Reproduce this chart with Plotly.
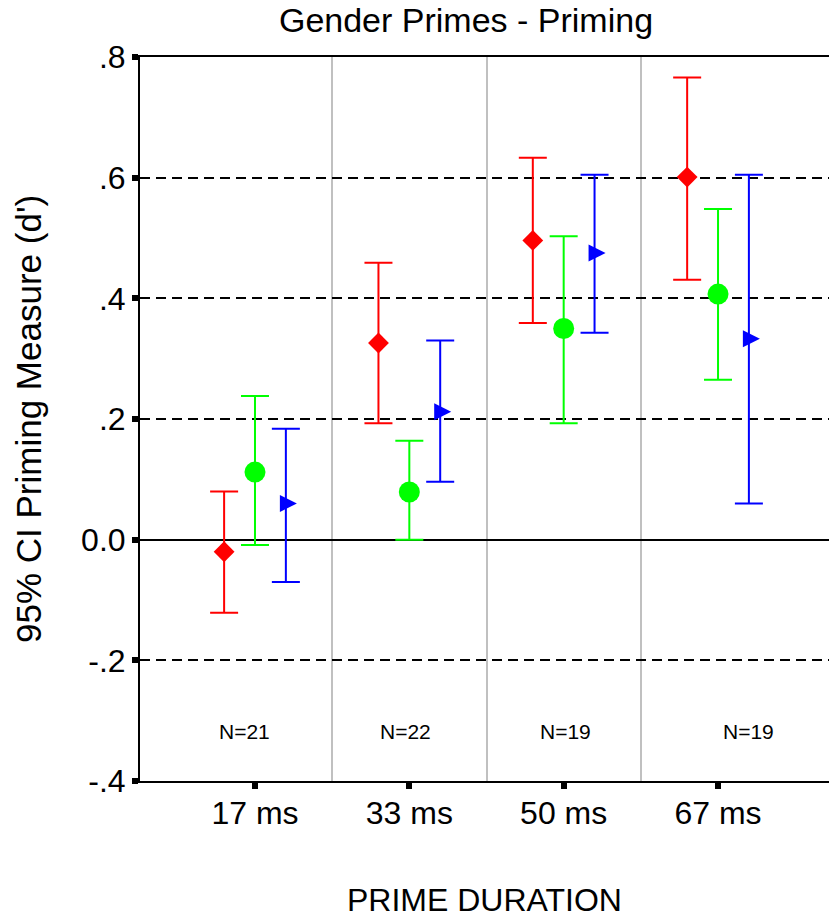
import plotly.graph_objects as go

# ---------------- data ----------------
categories = ["17 ms", "33 ms", "50 ms", "67 ms"]
n_labels = ["N=21", "N=22", "N=19", "N=19"]

red_mean = [-0.020, 0.326, 0.496, 0.601]
red_low = [-0.121, 0.193, 0.359, 0.431]
red_high = [0.080, 0.459, 0.633, 0.766]

green_mean = [0.112, 0.079, 0.350, 0.407]
green_low = [-0.009, 0.000, 0.193, 0.265]
green_high = [0.238, 0.164, 0.503, 0.548]

blue_mean = [0.060, 0.212, 0.475, 0.333]
blue_low = [-0.070, 0.096, 0.343, 0.060]
blue_high = [0.184, 0.330, 0.605, 0.605]

y_tickvals = [-0.4, -0.2, 0.0, 0.2, 0.4, 0.6, 0.8]
y_ticktext = ["-.4", "-.2", "0.0", ".2", ".4", ".6", ".8"]

# ---------------- layout constants ----------------
W, H = 829, 917
ML, MR, MT, MB = 140, 0, 57, 136
X_RANGE = [-0.745, 3.719]
Y_RANGE = [-0.4, 0.8]
GROUP_OFFSET = 0.2
N_LABEL_SHIFT = [-0.07, -0.026, 0.013, 0.2]
N_LABEL_Y = -0.318
FONT = "Liberation Sans, Arial, sans-serif"

px_per_unit = (W - ML - MR) / (X_RANGE[1] - X_RANGE[0])
idx = list(range(len(categories)))


def err(mean, low, high):
    return dict(
        type="data",
        symmetric=False,
        array=[h - m for h, m in zip(high, mean)],
        arrayminus=[m - l for m, l in zip(mean, low)],
        thickness=2,
        width=14,
    )


fig = go.Figure()

series = [
    ("Series 1", red_mean, red_low, red_high, "#ff0000", -GROUP_OFFSET, "diamond", 16),
    ("Series 2", green_mean, green_low, green_high, "#00ff00", 0.0, "circle", 21),
]
for name, m, lo, hi, col, off, sym, sz in series:
    e = err(m, lo, hi)
    e["color"] = col
    fig.add_trace(go.Scatter(
        x=[i + off for i in idx], y=m, mode="markers", name=name,
        marker=dict(symbol=sym, size=sz, color=col),
        error_y=e, showlegend=False,
    ))

# blue: error bars at group position, arrow-shaped marker pointing right
e = err(blue_mean, blue_low, blue_high)
e["color"] = "#0000ff"
fig.add_trace(go.Scatter(
    x=[i + GROUP_OFFSET for i in idx], y=blue_mean, mode="markers", name="Series 3",
    marker=dict(size=1, color="#0000ff", opacity=0),
    error_y=e, showlegend=False, hoverinfo="skip",
))
tip_shift = 11 / px_per_unit
fig.add_trace(go.Scatter(
    x=[i + GROUP_OFFSET + tip_shift for i in idx], y=blue_mean, mode="markers",
    name="Series 3", marker=dict(symbol="arrow-right", size=17, color="#0000ff"),
    showlegend=False,
))

annotations = []
for i, lab in enumerate(n_labels):
    annotations.append(dict(
        x=i + N_LABEL_SHIFT[i], y=N_LABEL_Y, xref="x", yref="y", text=lab,
        showarrow=False, font=dict(size=21, color="black", family=FONT),
        xanchor="center", yanchor="middle",
    ))
annotations.append(dict(
    x=0, y=0.5, xref="paper", yref="paper", xshift=28 - ML,
    text="95% CI Priming Measure (d')", textangle=-90, showarrow=False,
    font=dict(size=35, color="black", family=FONT), xanchor="center", yanchor="middle",
))
annotations.append(dict(
    x=0.5, y=0, xref="paper", yref="paper", yshift=-(900 - (H - MB)),
    text="PRIME DURATION", showarrow=False,
    font=dict(size=32, color="black", family=FONT), xanchor="center", yanchor="middle",
))

fig.update_layout(
    width=W, height=H,
    margin=dict(l=ML, r=MR, t=MT, b=MB, pad=0),
    paper_bgcolor="white", plot_bgcolor="white",
    font=dict(family=FONT, color="black"),
    title=dict(text="Gender Primes - Priming", x=466 / W, xanchor="center",
               y=1 - 20 / H, yanchor="middle", xref="container", yref="container",
               font=dict(size=34, color="black", family=FONT)),
    annotations=annotations,
    xaxis=dict(
        range=X_RANGE, tickmode="array", tickvals=idx, ticktext=categories,
        showgrid=False, zeroline=False,
        showline=True, linecolor="black", linewidth=2, mirror=True,
        ticks="outside", ticklen=6, tickwidth=6, tickcolor="black",
        ticklabelstandoff=-3,
        tickfont=dict(size=32, family=FONT, color="black"),
        minor=dict(tickmode="array", tickvals=[i + 0.5 for i in idx[:-1]],
                   showgrid=True, gridcolor="#c0c0c0", gridwidth=2, ticks=""),
        fixedrange=True,
    ),
    yaxis=dict(
        range=Y_RANGE, tickmode="array", tickvals=y_tickvals, ticktext=y_ticktext,
        showgrid=True, gridcolor="black", gridwidth=2, griddash="10px,6px",
        zeroline=True, zerolinecolor="black", zerolinewidth=2,
        showline=True, linecolor="black", linewidth=2,
        ticks="outside", ticklen=6, tickwidth=6, tickcolor="black",
        tickfont=dict(size=32, family=FONT, color="black"),
        fixedrange=True,
    ),
)

fig.write_html(
    "out.html",
    config={"displayModeBar": False},
    post_script="document.body.style.margin='0';document.body.style.overflow='hidden';",
)
